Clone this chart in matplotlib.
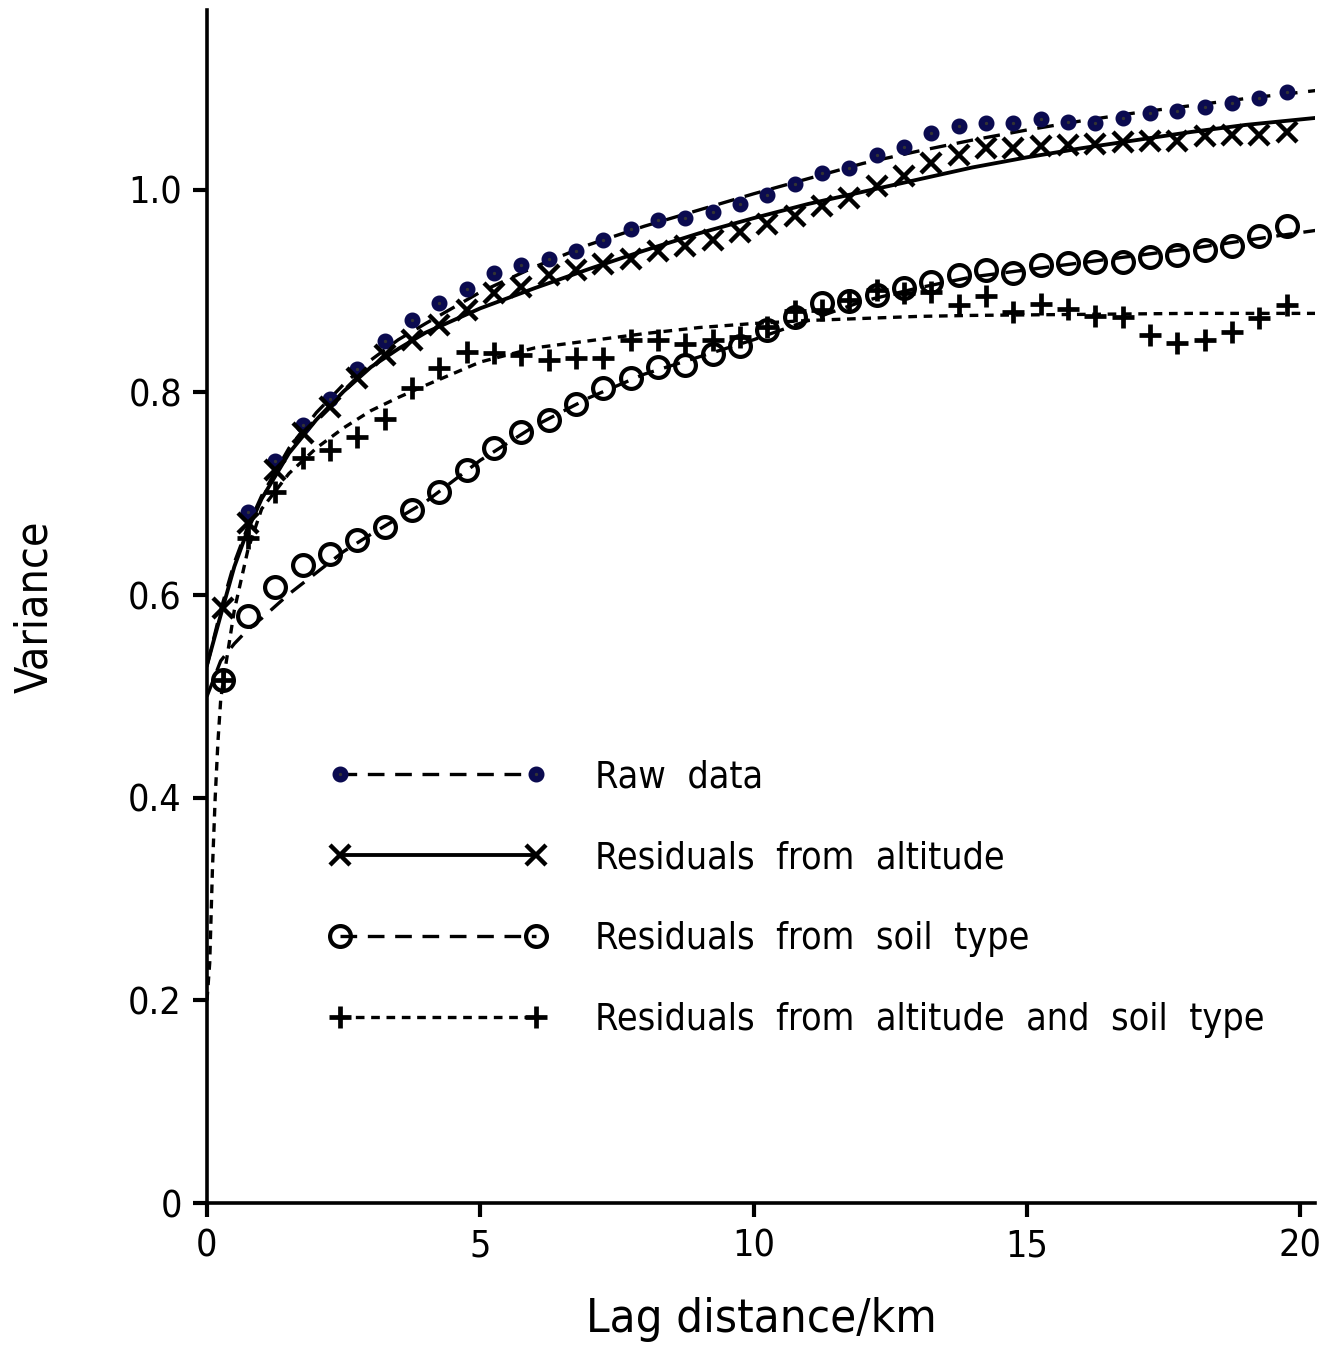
import matplotlib.pyplot as plt
import matplotlib as mpl
from matplotlib.lines import Line2D
from matplotlib import font_manager

# ---------- font: prefer a narrow face, like the original ----------
narrow = None
for f in font_manager.fontManager.ttflist:
    n = f.name + ' ' + str(f.fname)
    if ('Narrow' in n or 'Condensed' in n) and 'Bold' not in f.fname and 'Oblique' not in f.fname \
            and 'Italic' not in f.fname:
        narrow = f
        break

if narrow is not None:
    mpl.rcParams['font.family'] = [narrow.name, 'DejaVu Sans']
    mpl.rcParams['font.stretch'] = narrow.stretch
    k = 1.0
else:
    mpl.rcParams['font.family'] = ['Roboto', 'DejaVu Sans']
    k = 0.85

# ---------- experimental variograms (lag in km) ----------
lag_raw = [0.75, 1.25, 1.75, 2.25, 2.75, 3.25, 3.75, 4.25, 4.75, 5.25, 5.75, 6.25, 6.75,
           7.25, 7.75, 8.25, 8.75, 9.25, 9.75, 10.25, 10.75, 11.25, 11.75, 12.25, 12.75, 13.25,
           13.75, 14.25, 14.75, 15.25, 15.75, 16.25, 16.75, 17.25, 17.75, 18.25, 18.75, 19.25, 19.75]
lag_res = [0.3] + lag_raw

raw = [0.682, 0.732, 0.768, 0.793, 0.823, 0.851, 0.871, 0.888, 0.902, 0.918, 0.926, 0.932, 0.940,
       0.950, 0.961, 0.970, 0.972, 0.978, 0.986, 0.995, 1.006, 1.017, 1.021, 1.034, 1.042, 1.056,
       1.063, 1.066, 1.066, 1.070, 1.067, 1.066, 1.071, 1.076, 1.078, 1.082, 1.086, 1.091, 1.096]

res_alt = [0.587, 0.671, 0.723, 0.760, 0.786, 0.814, 0.837, 0.852, 0.867, 0.881, 0.898, 0.904, 0.916, 0.921,
           0.927, 0.932, 0.940, 0.944, 0.950, 0.958, 0.966, 0.974, 0.984, 0.992, 1.004, 1.014, 1.026,
           1.034, 1.041, 1.041, 1.043, 1.044, 1.045, 1.047, 1.048, 1.048, 1.053, 1.054, 1.054, 1.057]

res_soil = [0.516, 0.579, 0.608, 0.630, 0.641, 0.654, 0.667, 0.684, 0.702, 0.723, 0.745, 0.761, 0.773, 0.789,
            0.804, 0.814, 0.825, 0.827, 0.838, 0.846, 0.862, 0.874, 0.888, 0.890, 0.896, 0.903, 0.909,
            0.916, 0.921, 0.918, 0.926, 0.928, 0.929, 0.929, 0.934, 0.936, 0.941, 0.944, 0.954, 0.964]

res_both = [0.516, 0.656, 0.702, 0.735, 0.743, 0.756, 0.774, 0.804, 0.824, 0.840, 0.839, 0.837, 0.832, 0.834,
            0.834, 0.852, 0.852, 0.848, 0.852, 0.855, 0.865, 0.880, 0.881, 0.891, 0.901, 0.898, 0.899,
            0.886, 0.895, 0.879, 0.887, 0.882, 0.875, 0.874, 0.857, 0.849, 0.852, 0.860, 0.873, 0.886]

# ---------- fitted models ----------
fit_x = [0, 0.25, 0.5, 0.75, 1, 1.5, 2, 2.5, 3, 3.5, 4, 5, 6, 7, 8, 9, 10,
         11, 12, 13, 14, 15, 16, 17, 18, 19, 20.3]
fit_raw = [0.530, 0.585, 0.632, 0.668, 0.698, 0.745, 0.780, 0.808, 0.832, 0.852, 0.868, 0.899, 0.924,
           0.946, 0.964, 0.980, 0.996, 1.011, 1.026, 1.038, 1.049, 1.059, 1.068, 1.076, 1.083, 1.090, 1.098]
fit_alt = [0.531, 0.580, 0.628, 0.665, 0.695, 0.740, 0.773, 0.801, 0.825, 0.843, 0.859, 0.883, 0.903,
           0.922, 0.940, 0.957, 0.972, 0.986, 0.998, 1.010, 1.022, 1.032, 1.041, 1.049, 1.057, 1.064, 1.071]
fit_soil = [0.500, 0.535, 0.552, 0.566, 0.577, 0.601, 0.622, 0.643, 0.660, 0.676, 0.692, 0.733, 0.767,
            0.795, 0.818, 0.835, 0.852, 0.871, 0.890, 0.903, 0.914, 0.921, 0.928, 0.935, 0.942, 0.950, 0.960]
fit_both_x = [0, 0.05, 0.1, 0.15, 0.2, 0.25, 0.3, 0.5, 0.75, 1, 1.5, 2, 2.5, 3, 3.5, 4, 5, 6, 7, 8,
              9, 10, 11, 12, 13, 14, 16, 18, 20.3]
fit_both = [0.200, 0.237, 0.330, 0.400, 0.455, 0.496, 0.516, 0.585, 0.645, 0.685, 0.720, 0.745, 0.765,
            0.782, 0.795, 0.807, 0.830, 0.844, 0.851, 0.858, 0.864, 0.868, 0.871, 0.873, 0.875, 0.876,
            0.877, 0.878, 0.878]

labels = ['Raw  data', 'Residuals  from  altitude', 'Residuals  from  soil  type',
          'Residuals  from  altitude  and  soil  type']

# ---------- styles ----------
navy = '#0b0b50'
lw = 2.4
dash = (0, (5, 3.2))
dot = (0, (2.6, 2.0))
raw_m = dict(marker='o', markersize=7, markerfacecolor='#333333', markeredgecolor=navy, markeredgewidth=4.5)
alt_m = dict(marker='x', markersize=15, markeredgewidth=3.2, color='black')
soil_m = dict(marker='o', markersize=15, markerfacecolor='none', markeredgecolor='black', markeredgewidth=3.0)
both_m = dict(marker='+', markersize=16, markeredgewidth=3.4, color='black')

fig = plt.figure(figsize=(13.26, 13.52), dpi=100)
ax = fig.add_axes([0.1561, 0.1102, 0.8356, 0.8824])

ax.plot(fit_x, fit_raw, color='black', lw=lw, linestyle=dash)
ax.plot(fit_x, fit_alt, color='black', lw=lw * 1.15, linestyle='-')
ax.plot(fit_x, fit_soil, color='black', lw=lw, linestyle=dash)
ax.plot(fit_both_x, fit_both, color='black', lw=lw, linestyle=dot)

ax.plot(lag_raw, raw, linestyle='none', **raw_m)
ax.plot(lag_res, res_alt, linestyle='none', **alt_m)
ax.plot(lag_res, res_soil, linestyle='none', **soil_m)
ax.plot(lag_res, res_both, linestyle='none', **both_m)

# ---------- axes ----------
ax.set_xlim(0, 20.27)
ax.set_ylim(0, 1.1774)
ax.spines['top'].set_visible(False)
ax.spines['right'].set_visible(False)
for s in ('left', 'bottom'):
    ax.spines[s].set_linewidth(2.6)
ax.set_xticks([0, 5, 10, 15, 20])
ax.set_xticklabels(['0', '5', '10', '15', '20'])
ax.set_yticks([0, 0.2, 0.4, 0.6, 0.8, 1.0])
ax.set_yticklabels(['0', '0.2', '0.4', '0.6', '0.8', '1.0'])
ax.tick_params(axis='both', direction='out', length=10, width=3, labelsize=27 * k)
ax.tick_params(axis='x', pad=8)
ax.tick_params(axis='y', pad=8)
ax.set_xlabel('Lag distance/km', fontsize=34 * k, labelpad=24)
ax.set_ylabel('Variance', fontsize=32 * k, labelpad=52)

# ---------- legend ----------
handles = [
    Line2D([], [], color='black', lw=lw, linestyle=dash, **raw_m),
    Line2D([], [], lw=lw * 1.15, linestyle='-', **alt_m),
    Line2D([], [], color='black', lw=lw, linestyle=dash, **soil_m),
    Line2D([], [], lw=lw, linestyle=dot, **both_m),
]
fs = 27 * k
fpx = fs * 100 / 72
ax.legend(handles, labels, loc='upper left', bbox_to_anchor=(0.110, 0.372), frameon=False,
          fontsize=fs, numpoints=2, handlelength=218 / fpx, handletextpad=48 / fpx,
          labelspacing=45 / fpx, borderpad=0, borderaxespad=0)

fig.savefig('out.png', dpi=100, facecolor='white')
